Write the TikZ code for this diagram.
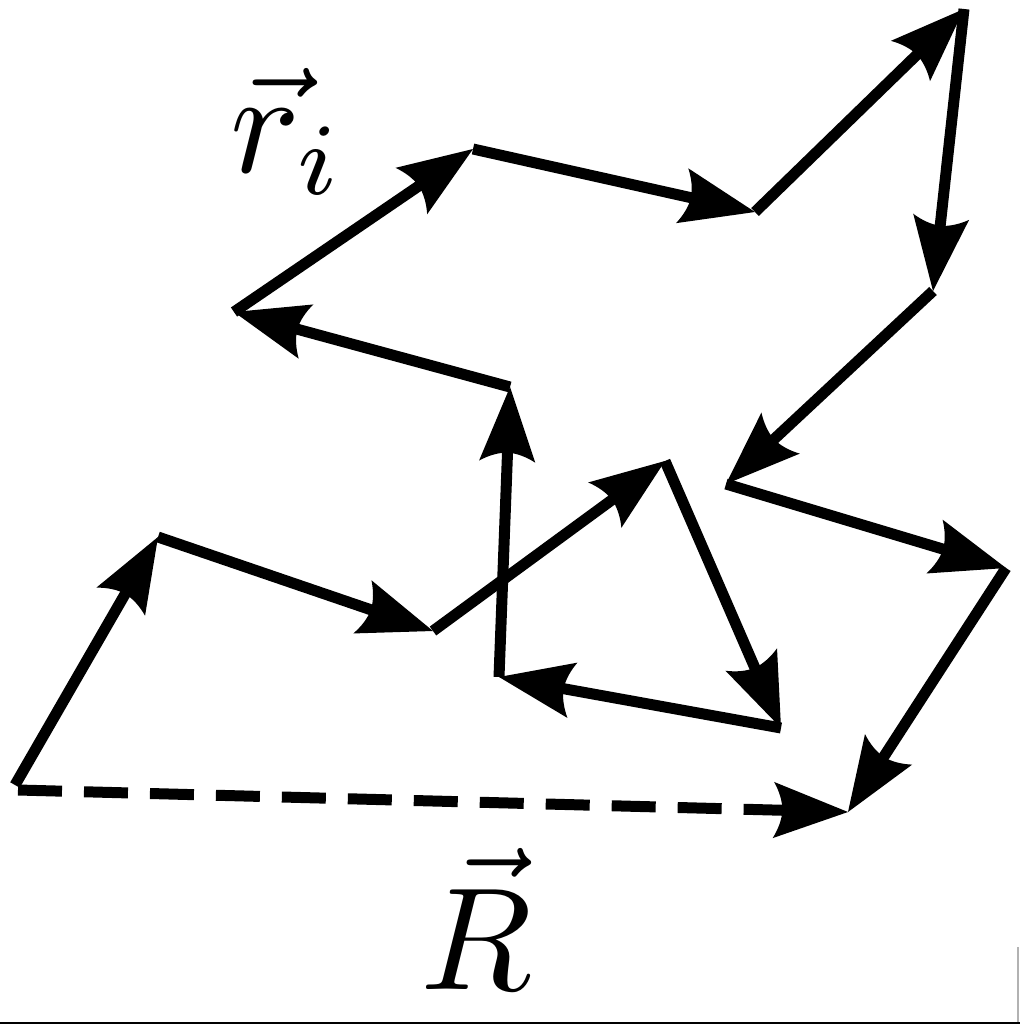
\documentclass[tikz,border=0pt]{standalone}
\usetikzlibrary{arrows.meta}
\pgfdeclarearrow{
  name=CurvedHead,
  setup code={
    \pgfarrowssettipend{0pt}
    \pgfarrowssetlineend{-34pt}
    \pgfarrowssetbackend{-42.5pt}
    \pgfarrowssetvisualbackend{-37.4pt}
    \pgfarrowshullpoint{0pt}{0pt}
    \pgfarrowshullpoint{-42.5pt}{16pt}
    \pgfarrowshullpoint{-42.5pt}{-16pt}
  },
  drawing code={
    \pgfpathmoveto{\pgfqpoint{0pt}{0pt}}
    \pgfpathlineto{\pgfqpoint{-42.5pt}{16pt}}
    \pgfpathcurveto{\pgfqpoint{-39.5pt}{11pt}}{\pgfqpoint{-37.4pt}{5pt}}{\pgfqpoint{-37.4pt}{0pt}}
    \pgfpathcurveto{\pgfqpoint{-37.4pt}{-5pt}}{\pgfqpoint{-39.5pt}{-11pt}}{\pgfqpoint{-42.5pt}{-16pt}}
    \pgfpathclose
    \pgfusepathqfill
  }
}
\tikzset{
  seg/.style={line width=0.22cm, -{CurvedHead}},
  dseg/.style={seg, dash pattern=on 0.88cm off 0.44cm},
  lab/.style={inner sep=0pt, scale=8.3},
  edge line/.style={line width=0.05cm},
  side line/.style={line width=0.04cm, color=black!30}
}
\begin{document}
\begin{tikzpicture}[x=0.02cm,y=-0.02cm]
\useasboundingbox (0,0) rectangle (1020,1024);
\coordinate (A) at (15,785);
\coordinate (A2) at (18,790);
\coordinate (B) at (158,537);
\coordinate (C) at (433,631);
\coordinate (D) at (665,461);
\coordinate (E) at (781,728);
\coordinate (F) at (499,677);
\coordinate (G) at (510,387);
\coordinate (H) at (234,312);
\coordinate (I) at (473,149);
\coordinate (J) at (755,212);
\coordinate (K) at (964,9);
\coordinate (L) at (933,291);
\coordinate (M) at (726,484);
\coordinate (N) at (1006,568);
\coordinate (O) at (848,812);
\foreach \p/\q in {A/B,B/C,C/D,D/E,E/F,F/G,G/H,H/I,I/J,J/K,K/L,L/M,M/N,N/O}
  \draw[seg] (\p) -- (\q);
\draw[dseg] (A2) -- (O);
\node[lab] (ri) at (288,131) {$\vec r_i$};
\node[lab] (R) at (476,919) {$\vec R$};
\coordinate (b1) at (0,1023);
\coordinate (b2) at (1020,1023);
\coordinate (s1) at (1018,947);
\coordinate (s2) at (1018,1022);
\draw[side line] (s1) -- (s2);
\draw[edge line] (b1) -- (b2);
\end{tikzpicture}
\end{document}
